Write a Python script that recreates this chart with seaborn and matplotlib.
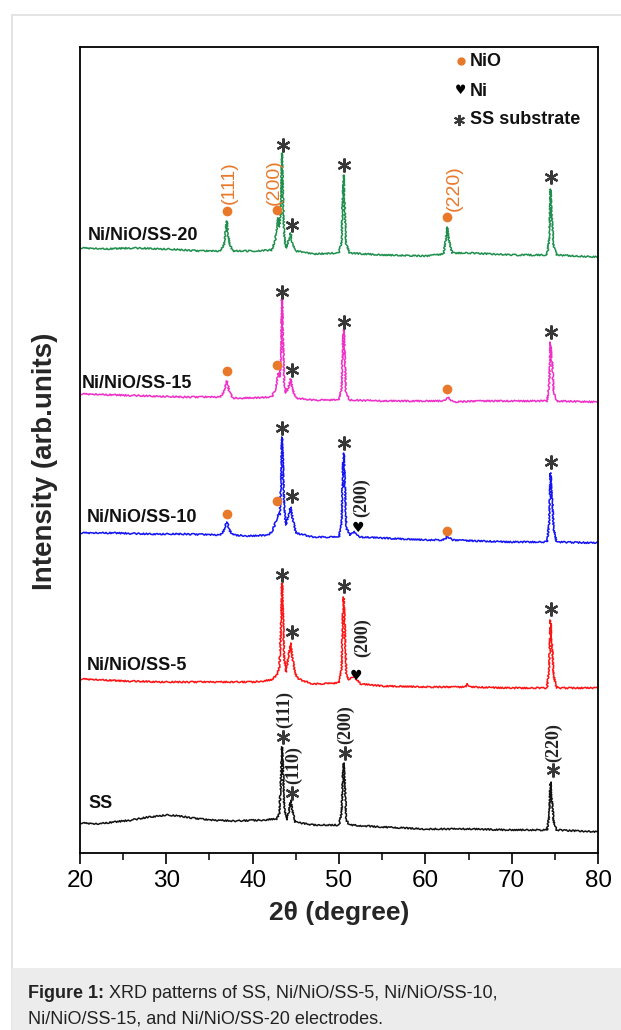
import matplotlib
matplotlib.use("Agg")
import matplotlib.pyplot as plt
import numpy as np
import pandas as pd
import seaborn as sns
from matplotlib.patches import Rectangle

# ---------------- XRD traces: (2θ [deg], stacked intensity [arb. units]) ----------------
ss20 = [(20.0, 605), (23.0, 604), (26.0, 605), (30.0, 604), (34.0, 602), (36.3, 602),
        (36.7, 609), (36.9, 624), (37.0, 632), (37.1, 624), (37.3, 609), (37.7, 602),
        (40.0, 602), (42.2, 603), (42.6, 612), (42.85, 628), (42.95, 635), (43.1, 626),
        (43.25, 640), (43.4, 700), (43.5, 660), (43.65, 618), (43.85, 605), (44.15, 612),
        (44.4, 620), (44.6, 609), (45.0, 602), (47.0, 599), (50.0, 600), (50.3, 612),
        (50.45, 660), (50.55, 678), (50.65, 652), (50.8, 610), (51.2, 600), (55.0, 598),
        (60.0, 597), (62.1, 599), (62.35, 612), (62.55, 626), (62.75, 612), (63.1, 600),
        (65.0, 600), (70.0, 598), (74.1, 598), (74.35, 614), (74.5, 664), (74.6, 642),
        (74.7, 630), (74.85, 607), (75.2, 598), (80.0, 596)]

ss15 = [(20.0, 459), (24.0, 458), (28.0, 457), (32.0, 456), (36.3, 456), (36.7, 462),
        (36.9, 469), (37.0, 472), (37.1, 469), (37.3, 461), (37.7, 455), (40.0, 455),
        (42.2, 456), (42.6, 463), (42.85, 474), (43.0, 480), (43.15, 476), (43.3, 500),
        (43.4, 555), (43.5, 520), (43.65, 470), (43.85, 460), (44.15, 466), (44.4, 474),
        (44.6, 464), (45.0, 455), (47.0, 453), (50.0, 453), (50.3, 465), (50.45, 510),
        (50.55, 524), (50.65, 505), (50.8, 462), (51.2, 453), (55.0, 452), (60.0, 452),
        (62.1, 452), (62.4, 454), (62.6, 456), (62.8, 454), (63.2, 451), (66.0, 452),
        (70.0, 452), (74.1, 452), (74.35, 468), (74.5, 511), (74.6, 495), (74.7, 490),
        (74.85, 462), (75.2, 452), (80.0, 451)]

ss10 = [(20.0, 320), (24.0, 320), (28.0, 319), (32.0, 319), (36.3, 318), (36.7, 323),
        (36.9, 329), (37.0, 331), (37.1, 329), (37.3, 323), (37.7, 318), (40.0, 317),
        (41.8, 318), (42.3, 322), (42.7, 332), (43.0, 340), (43.15, 338), (43.3, 370),
        (43.4, 416), (43.5, 395), (43.65, 345), (43.85, 328), (44.15, 338), (44.4, 346),
        (44.6, 336), (45.0, 320), (47.0, 316), (50.0, 316), (50.3, 330), (50.45, 385),
        (50.55, 400), (50.65, 380), (50.85, 325), (51.3, 318), (51.8, 321), (52.3, 316),
        (55.0, 315), (60.0, 313), (62.1, 313), (62.4, 315), (62.6, 317), (62.8, 315),
        (63.2, 313), (66.0, 312), (70.0, 311), (74.1, 311), (74.35, 330), (74.5, 380),
        (74.6, 362), (74.7, 357), (74.85, 325), (75.2, 311), (80.0, 310)]

ss5 = [(20.0, 174), (25.0, 172), (30.0, 171), (36.0, 171), (40.0, 171), (42.2, 173),
       (42.8, 178), (43.1, 186), (43.3, 230), (43.4, 270), (43.5, 245), (43.65, 195),
       (43.85, 181), (44.15, 196), (44.4, 210), (44.6, 196), (44.9, 180), (45.3, 174),
       (47.0, 169), (50.0, 170), (50.3, 185), (50.45, 240), (50.55, 256), (50.65, 235),
       (50.85, 178), (51.1, 173), (51.6, 176), (51.9, 175), (52.5, 169), (55.0, 167),
       (60.0, 166), (64.6, 166), (64.9, 169), (65.2, 166), (70.0, 165), (74.1, 165),
       (74.35, 185), (74.5, 233), (74.6, 214), (74.7, 206), (74.85, 178), (75.2, 165),
       (80.0, 165)]

ss = [(20.0, 30), (22.0, 29), (24.0, 31), (26.0, 33), (28.0, 36), (30.0, 38), (31.5, 37),
      (33.0, 35), (35.0, 33), (38.0, 32), (41.0, 33), (42.8, 34), (43.1, 40), (43.3, 80),
      (43.4, 106), (43.5, 90), (43.65, 45), (43.9, 33), (44.2, 42), (44.4, 53), (44.6, 42),
      (44.9, 31), (47.0, 28), (50.0, 28), (50.3, 40), (50.45, 80), (50.55, 90), (50.65, 75),
      (50.85, 33), (51.2, 28), (55.0, 26), (60.0, 24), (65.0, 24), (70.0, 23), (74.1, 23),
      (74.35, 38), (74.5, 71), (74.6, 56), (74.7, 50), (74.85, 32), (75.2, 23), (80.0, 21)]

samples = ["Ni/NiO/SS-20", "Ni/NiO/SS-15", "Ni/NiO/SS-10", "Ni/NiO/SS-5", "SS"]
traces = [ss20, ss15, ss10, ss5, ss]
x_ticks = [20, 30, 40, 50, 60, 70, 80]

# ---------------- styling ----------------
palette = {"Ni/NiO/SS-20": "#1f8f4e", "Ni/NiO/SS-15": "#f02fc8",
           "Ni/NiO/SS-10": "#1414f5", "Ni/NiO/SS-5": "#ff1212", "SS": "#111111"}
ORANGE = "#e8792b"
STAR = "#383838"
SANS = ["Liberation Sans", "DejaVu Sans"]
SERIF = ["Liberation Serif", "DejaVu Serif"]

sns.set_theme(style="white")
plt.rcParams["font.family"] = SANS

rows = []
for name, tr in zip(samples, traces):
    for t, inten in tr:
        rows.append({"two_theta": t, "intensity": inten, "sample": name})
df = pd.DataFrame(rows)

W, H = 621, 1030
fig = plt.figure(figsize=(W / 100, H / 100), dpi=100)
fig.patch.set_facecolor("white")

# page card and caption strip (behind the plot)
fig.patches.append(Rectangle((12 / W, -0.01), 1.0, (H - 15) / H + 0.01, transform=fig.transFigure,
                             facecolor="white", edgecolor="#e2e2e2", lw=1.3, zorder=-3))
fig.patches.append(Rectangle((12 / W, 0), 1.0, 62 / H, transform=fig.transFigure,
                             facecolor="#ececec", edgecolor="none", zorder=-2))

ax = fig.add_axes([80 / W, (H - 853) / H, 518 / W, 806 / H])
ax.set_zorder(2)
sns.lineplot(data=df, x="two_theta", y="intensity", hue="sample", palette=palette,
             estimator=None, sort=False, legend=False, lw=1.1, ax=ax)
for ln in ax.lines:
    ln.set_sketch_params(scale=0.75, length=1.8, randomness=3.0)

ax.set_xlim(20, 80)
ax.set_ylim(0, 806)
ax.set_xticks(x_ticks)
ax.set_xticks(np.arange(25, 80, 10), minor=True)
ax.set_yticks([])
ax.tick_params(axis="x", which="major", direction="out", length=8, width=1.2,
               colors="black", labelsize=17.5, pad=4, bottom=True)
ax.tick_params(axis="x", which="minor", direction="out", length=5, width=1.1,
               colors="black", bottom=True)
for sp in ax.spines.values():
    sp.set_color("black")
    sp.set_linewidth(1.3)

ax.set_xlabel("2θ (degree)", fontsize=19, fontweight="bold")
ax.xaxis.set_label_coords(0.5, -0.059)
ax.set_ylabel("Intensity (arb.units)", fontsize=20, fontweight="bold")
ax.yaxis.set_label_coords(-0.042, 0.486)


def stars(pts, size=10):
    xs, ys = zip(*pts)
    ax.plot(xs, ys, ls="none", marker=(6, 2, 0), ms=size, mew=1.6, color=STAR, zorder=5)


def dots(pts):
    xs, ys = zip(*pts)
    ax.plot(xs, ys, ls="none", marker="o", ms=7, mew=0, color=ORANGE, zorder=5)


def hkl(x, y, s, color, family, weight="normal", size=13):
    ax.text(x, y, s, rotation=90, ha="center", va="center", color=color,
            family=family, fontweight=weight, fontsize=size, zorder=6)


def heart(x, y):
    ax.text(x, y, "♥", ha="center", va="center", fontsize=10, color="black",
            family=["DejaVu Sans"], zorder=6)


# Ni/NiO/SS-20
dots([(37.0, 642), (42.8, 643), (62.5, 636)])
stars([(43.5, 708), (44.55, 628), (50.55, 688), (74.55, 676)])
hkl(37.3, 670, "(111)", ORANGE, SANS, size=14)
hkl(42.45, 671, "(200)", ORANGE, SANS, size=14)
hkl(63.35, 665, "(220)", ORANGE, SANS, size=14)

# Ni/NiO/SS-15
dots([(37.05, 482), (42.8, 488), (62.5, 464)])
stars([(43.45, 561), (44.55, 483), (50.55, 531), (74.55, 521)])

# Ni/NiO/SS-10
dots([(37.0, 339), (42.8, 352), (62.5, 322)])
stars([(43.45, 425), (44.55, 357), (50.6, 410), (74.6, 391)])
heart(52.2, 325)
hkl(52.6, 355, "(200)", "#222222", SERIF, weight="bold", size=13)

# Ni/NiO/SS-5
stars([(43.45, 278), (44.55, 221), (50.6, 267), (74.6, 244)])
heart(52.0, 177)
hkl(52.7, 215, "(200)", "#222222", SERIF, weight="bold", size=13)

# SS
stars([(43.55, 116), (44.6, 60), (50.7, 100), (74.8, 83)])
hkl(43.65, 143, "(111)", "#222222", SERIF, weight="bold", size=13)
hkl(44.75, 88, "(110)", "#222222", SERIF, weight="bold", size=13)
hkl(50.8, 128, "(200)", "#222222", SERIF, weight="bold", size=13)
hkl(74.9, 110, "(220)", "#222222", SERIF, weight="bold", size=13)

# sample names
for name, (lx, ly) in zip(samples, [(20.9, 618), (20.2, 470), (20.8, 336), (20.8, 187), (21.0, 50)]):
    ax.text(lx, ly, name, ha="left", va="center", fontsize=13, fontweight="bold",
            color="#111111", zorder=6)

# phase key
ax.plot([64.1], [792], ls="none", marker="o", ms=6, mew=0, color=ORANGE)
ax.text(65.1, 792, "NiO", ha="left", va="center", fontsize=13, fontweight="bold", color="#111111")
ax.text(64.05, 762, "♥", ha="center", va="center", fontsize=9, family=["DejaVu Sans"], color="black")
ax.text(65.1, 762, "Ni", ha="left", va="center", fontsize=13, fontweight="bold", color="#111111")
ax.plot([63.95], [733], ls="none", marker=(6, 2, 0), ms=8, mew=1.4, color=STAR)
ax.text(65.15, 733, "SS substrate", ha="left", va="center", fontsize=13, fontweight="bold", color="#111111")

# caption
cap1 = fig.text(28 / W, 1 - 1002 / H, "Figure 1:", fontsize=13, fontweight="bold",
                color="#222222", ha="left", va="bottom")
ax.annotate(" XRD patterns of SS, Ni/NiO/SS-5, Ni/NiO/SS-10,", xy=(1, 0), xycoords=cap1,
            fontsize=13, color="#222222", ha="left", va="bottom", annotation_clip=False)
fig.text(28 / W, 1 - 1028 / H, "Ni/NiO/SS-15, and Ni/NiO/SS-20 electrodes.", fontsize=13,
         color="#222222", ha="left", va="bottom")

fig.savefig("out.png", dpi=100, facecolor="white")
